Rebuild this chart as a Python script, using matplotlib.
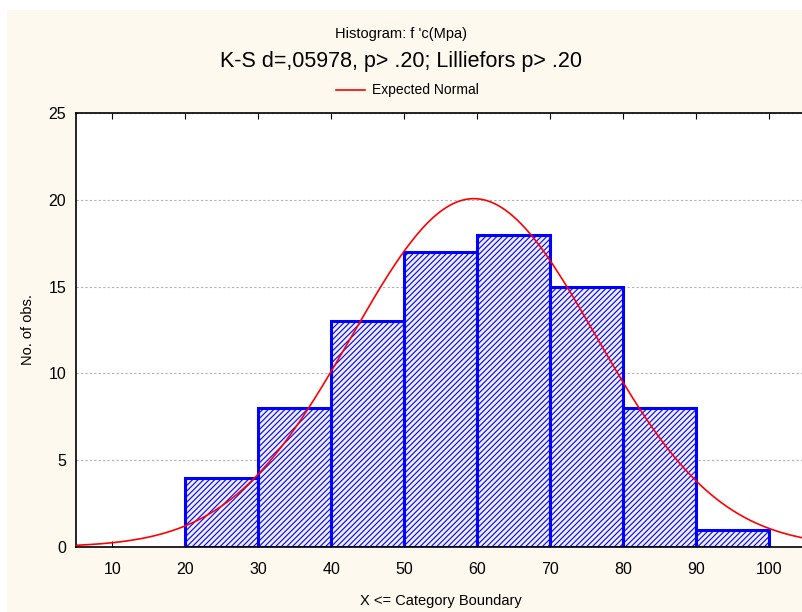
import numpy as np
import matplotlib.pyplot as plt
from matplotlib.patches import Rectangle

# histogram data
bin_edges = [20, 30, 40, 50, 60, 70, 80, 90, 100]
counts = [4, 8, 13, 17, 18, 15, 8, 1]
x_ticks = [10, 20, 30, 40, 50, 60, 70, 80, 90, 100]
y_ticks = [0, 5, 10, 15, 20, 25]

# fitted normal (estimated from the curve)
mu, sigma = 59.5, 16.7

plt.rcParams['font.family'] = ['Liberation Sans', 'DejaVu Sans']
plt.rcParams['hatch.linewidth'] = 0.8
plt.rcParams['hatch.color'] = '#2020ff'

fig = plt.figure(figsize=(8.03, 6.12), dpi=100)
fig.patch.set_facecolor('white')
# cream panel behind everything
fig.patches.append(Rectangle((7 / 803, 0), 1, 1 - 10 / 612, transform=fig.transFigure,
                             facecolor='#fdf9ee', edgecolor='none', zorder=-10))

ax = fig.add_axes([76 / 803, 1 - 547 / 612, 730 / 803, 434 / 612])
ax.set_facecolor('white')

n = sum(counts)
width = bin_edges[1] - bin_edges[0]
lefts = bin_edges[:-1]
ax.bar(lefts, counts, width=width, align='edge', facecolor='#eeeeff',
       edgecolor='#0000ff', linewidth=2.2, hatch='//////', zorder=2)

xs = np.linspace(5, 105, 400)
ys = n * width / (sigma * np.sqrt(2 * np.pi)) * np.exp(-0.5 * ((xs - mu) / sigma) ** 2)
ax.plot(xs, ys, color='#ff0000', linewidth=1.2, zorder=3)

ax.set_xlim(5, 105)
ax.set_ylim(0, 25)
ax.set_xticks(x_ticks)
ax.set_yticks(y_ticks)
ax.tick_params(axis='x', direction='in', length=4, top=True, labelsize=11.5, pad=11)
ax.tick_params(axis='y', direction='in', length=0, labelsize=11.5, pad=7)
ax.yaxis.grid(True, linestyle=(0, (2, 2)), color='#b0b0b0', linewidth=0.8)
ax.set_axisbelow(True)
for s in ax.spines.values():
    s.set_linewidth(1.2)
    s.set_color('black')

ax.set_xlabel('X <= Category Boundary', fontsize=10.5, labelpad=12)
ax.set_ylabel('No. of obs.', fontsize=10.5, labelpad=10)

fig.text(0.5, 1 - 34 / 612, "Histogram: f 'c(Mpa)", ha='center', va='center', fontsize=10.5)
fig.text(0.5, 1 - 62 / 612, 'K-S d=,05978, p> .20; Lilliefors p> .20', ha='center',
         va='center', fontsize=15.5)
fig.lines.append(plt.Line2D([336 / 803, 365 / 803], [1 - 90 / 612, 1 - 90 / 612],
                            transform=fig.transFigure, color='#ff0000', linewidth=1.2))
fig.text(372 / 803, 1 - 90 / 612, 'Expected Normal', ha='left', va='center', fontsize=10)

fig.savefig('out.png', dpi=100)
